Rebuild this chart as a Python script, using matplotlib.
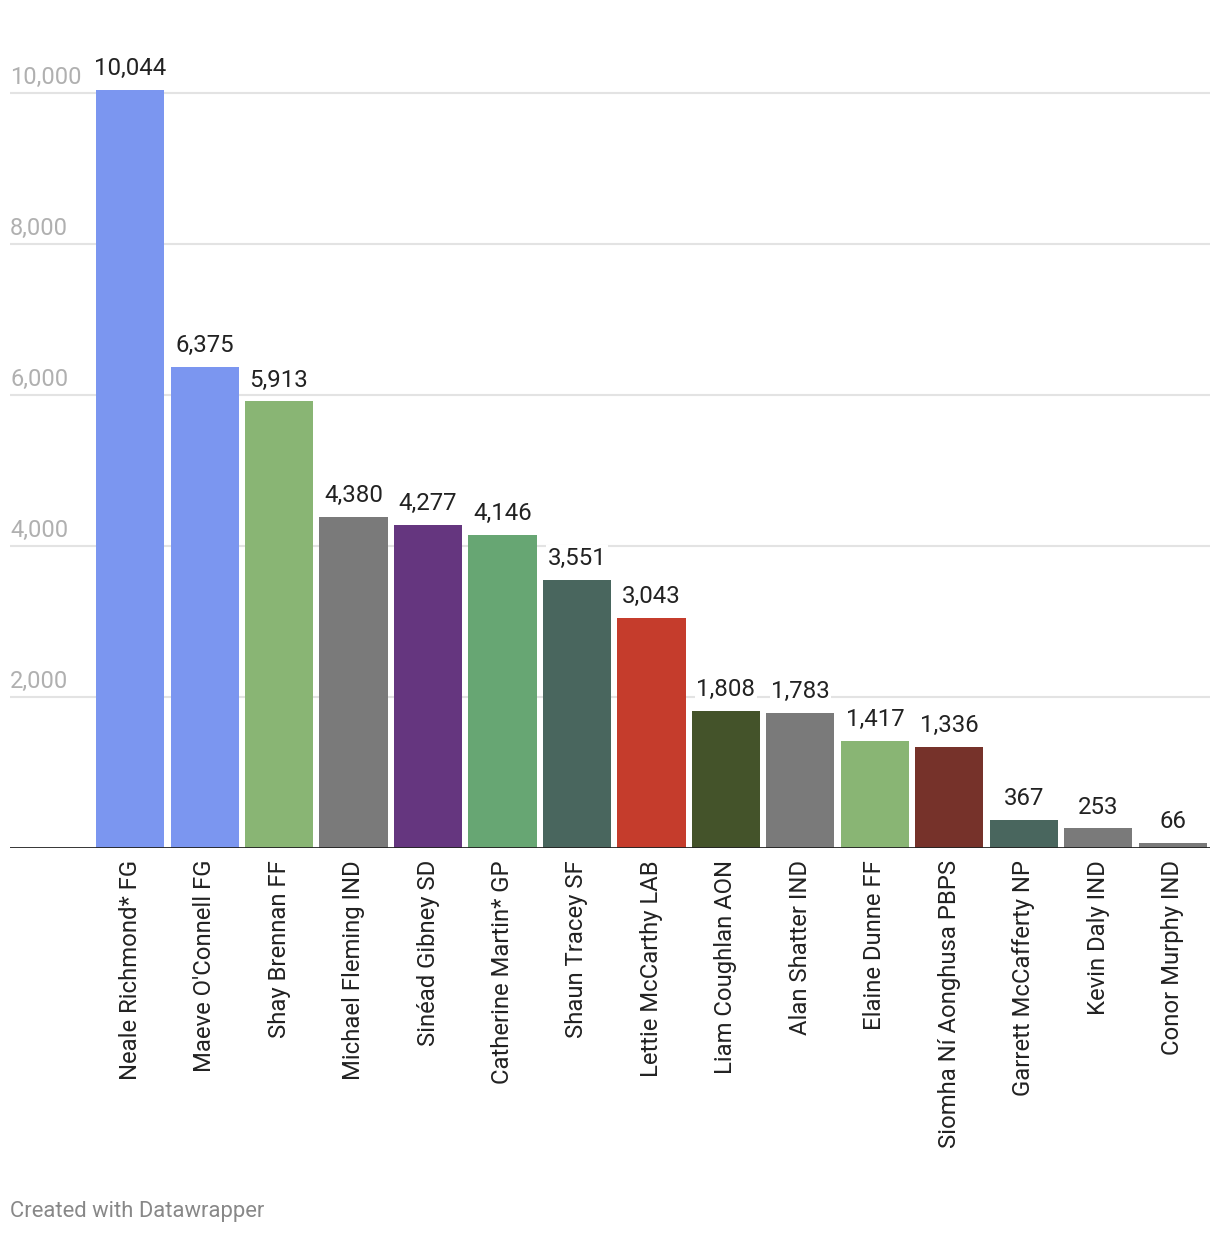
import matplotlib.pyplot as plt
import numpy as np

plt.rcParams['font.family'] = ['Roboto', 'DejaVu Sans']

# candidates and first preference votes
names = ["Neale Richmond* FG", "Maeve O'Connell FG", "Shay Brennan FF",
         "Michael Fleming IND", "Sinéad Gibney SD", "Catherine Martin* GP",
         "Shaun Tracey SF", "Lettie McCarthy LAB", "Liam Coughlan AON",
         "Alan Shatter IND", "Elaine Dunne FF", "Siomha Ní Aonghusa PBPS",
         "Garrett McCafferty NP", "Kevin Daly IND", "Conor Murphy IND"]
votes = [10044, 6375, 5913, 4380, 4277, 4146, 3551, 3043, 1808, 1783,
         1417, 1336, 367, 253, 66]
colors = ["#7b96f0", "#7b96f0", "#89b574", "#7a7a7a", "#65367f", "#67a673",
          "#49665e", "#c53c2c", "#44532a", "#7a7a7a", "#89b574", "#76322a",
          "#49665e", "#7a7a7a", "#7a7a7a"]
yticks = [2000, 4000, 6000, 8000, 10000]

W, H = 1220, 1234
fig = plt.figure(figsize=(W / 100, H / 100), dpi=100)
# axes in pixel coords: left 10, right 1210, top 20, bottom 847
ax = fig.add_axes([10 / W, 1 - 847.5 / H, 1200 / W, (847.5 - 20) / H])

x = np.arange(len(names))
ax.bar(x, votes, width=0.913, color=colors, zorder=2)
ax.set_xlim(-1.611, 14.497)
ax.set_ylim(0, 10968)

for v in yticks:
    ax.axhline(v, color="#e3e3e3", lw=1.5, zorder=0)
    ax.text(-1.611, v + 50, f"{v:,}", color="#b0b0b0", fontsize=17,
            ha="left", va="bottom", zorder=1)
ax.axhline(0, color="#222222", lw=2, zorder=3)

for xi, v in zip(x, votes):
    ax.text(xi, v + 130, f"{v:,}", ha="center", va="bottom", fontsize=17.3,
            color="#222222", zorder=4,
            bbox=dict(facecolor="white", edgecolor="none", pad=1))

ax.set_xticks(x)
ax.set_xticklabels(names, rotation=90, fontsize=17.2, color="#222222")
ax.tick_params(axis="x", length=0, pad=9)
ax.set_yticks([])
for s in ax.spines.values():
    s.set_visible(False)

fig.text(10 / W, 1 - 1212 / H, "Created with Datawrapper", color="#888888",
         fontsize=15.8, ha="left", va="center")

fig.savefig("out.png", dpi=100)
